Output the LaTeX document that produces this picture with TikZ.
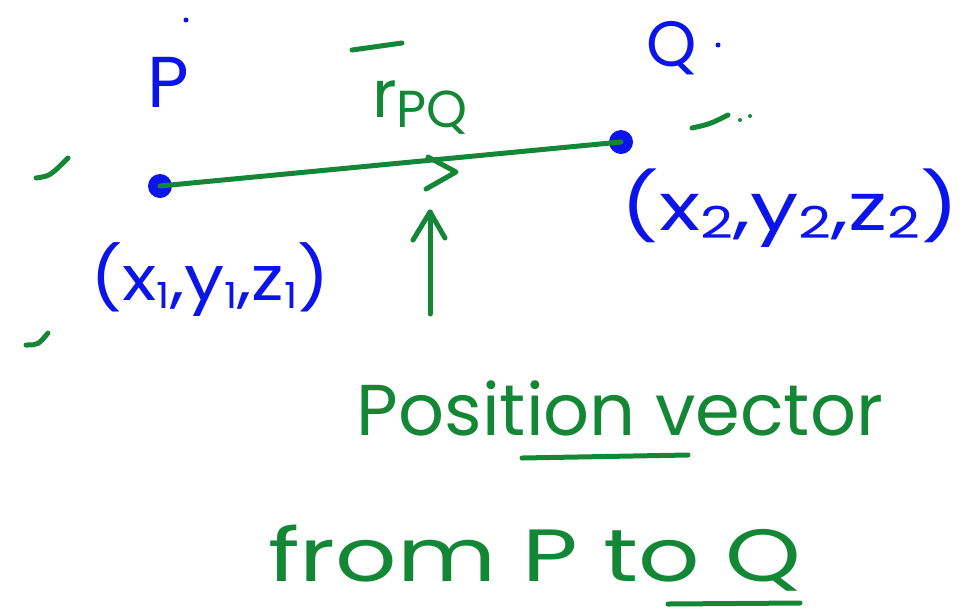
\documentclass[tikz,border=0pt]{standalone}
\usepackage{fontspec}
\setmainfont{Poppins}
\definecolor{inkblue}{RGB}{10,20,235}
\definecolor{inkgreen}{RGB}{20,135,55}
\tikzset{
  bluetxt/.style={text=inkblue,inner sep=0pt},
  greentxt/.style={text=inkgreen,inner sep=0pt},
  pen/.style={draw=inkgreen,line width=5pt,line cap=round,line join=round},
  bdot/.style={circle,fill=inkblue,minimum size=24pt,inner sep=0pt},
}
\newcommand{\fs}[1]{\fontsize{#1}{#1}\selectfont}
\begin{document}
\begin{tikzpicture}[x=1pt,y=-1pt]
\useasboundingbox (0,0) rectangle (973,614);
% points
\node[bdot] (P) at (160,186) {};
\node[bdot] (Q) at (621,142) {};
\node[bluetxt,font=\fs{72}] (Plab) at (168,82) {P};
\node[bluetxt,font=\fs{64}] (Qlab) at (672,48) {Q};
\fill[inkblue] (186,20) circle (2.5pt);
\fill[inkblue] (718,45) circle (2.5pt);
% vector
\draw[pen] (P.center) -- (Q.center);
\coordinate (mid) at (456,172);
\draw[pen] (428,157) -- (mid) -- (426,189);
% label r_PQ
\node[greentxt,font=\fs{66}] (rpq) at (420,108) {r\raisebox{-10pt}{\fs{52}PQ}};
\draw[pen] (352,50) -- (402,43);
% coordinates
\node[bluetxt,font=\fs{62},xscale=1.15] (c1) at (210,280) {(x\raisebox{-8pt}{\fs{36}1},y\raisebox{-8pt}{\fs{36}1},z\raisebox{-8pt}{\fs{36}1})};
\node[bluetxt,font=\fs{66},xscale=1.3] (c2) at (790,208) {(x\raisebox{-8pt}{\fs{44}2},y\raisebox{-8pt}{\fs{44}2},z\raisebox{-8pt}{\fs{44}2})};
% pointer arrow
\coordinate (tail) at (430,314);
\coordinate (tip) at (430,212);
\draw[pen] (tail) -- (tip);
\draw[pen] (413,240) -- (tip) -- (445,238);
% texts
\node[greentxt,font=\fs{72}] (pos) at (620,408) {Position vector};
\draw[pen] (522,458) -- (688,455);
\node[greentxt,font=\fs{74},xscale=1.3] (from) at (535,558) {from P to Q};
\draw[pen] (668,604) -- (800,603);
% tick marks
\draw[pen] (36,178) .. controls (50,176) .. (68,158);
\draw[pen] (26,345) .. controls (38,345) .. (48,333);
\draw[pen] (692,128) .. controls (710,124) .. (728,115);
\fill[inkgreen] (740,120) circle (2pt);
\fill[inkgreen] (750,116) circle (2pt);
\end{tikzpicture}
\end{document}
